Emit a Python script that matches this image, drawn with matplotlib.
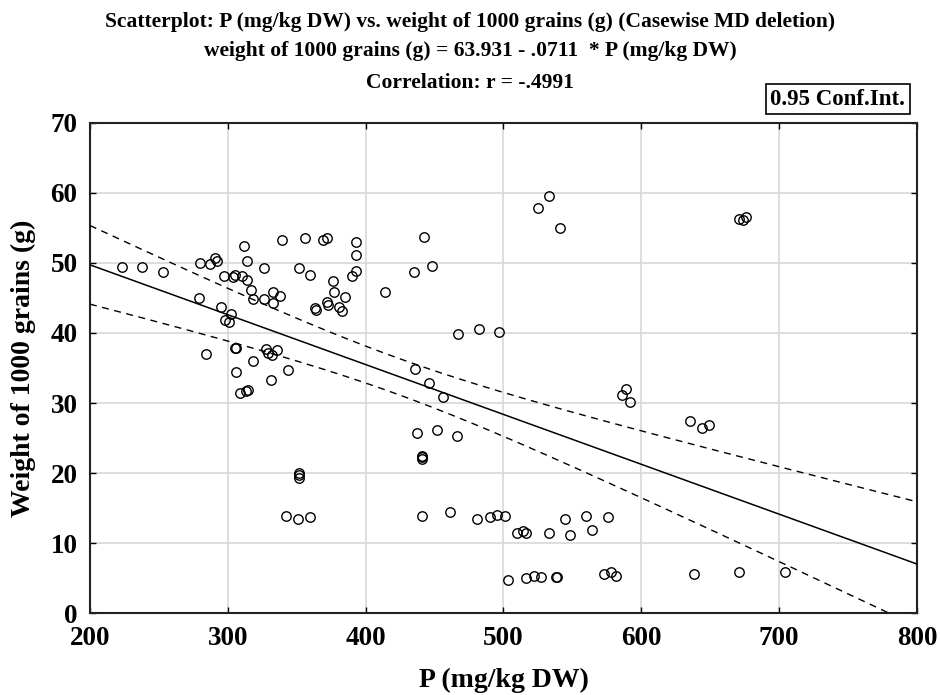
"""
Scatterplot P vs. weight of 1000 grains, with linear fit and 0.95 confidence band.
"""

import numpy as np
import matplotlib

matplotlib.use("Agg")
import matplotlib.pyplot as plt

# P (mg/kg DW)
p_values = [
    223, 238, 253, 280, 287, 291, 292, 312, 314, 326, 339, 352, 356, 360, 369, 372,
    393, 393, 393, 390, 297, 304, 305, 310, 314, 317, 318, 326, 333, 338, 333, 376,
    377, 385, 372, 373, 381, 383, 363, 364, 279, 295, 302, 298, 301, 414, 435, 442,
    448, 284, 305, 306, 318, 328, 329, 332, 336, 344, 306, 331, 309, 313, 315, 352,
    352, 352, 342, 351, 360, 436, 446, 456, 437, 452, 466, 441, 441, 441, 441, 461,
    481, 490, 495, 501, 510, 514, 516, 533, 545, 548, 560, 564, 576, 503, 516, 522,
    527, 538, 539, 573, 578, 582, 467, 482, 497, 525, 533, 541, 589, 586, 592, 635,
    644, 649, 638, 671, 674, 676, 671, 704,
]
# weight of 1000 grains (g)
weight_values = [
    49.4, 49.4, 48.7, 50.0, 49.8, 50.7, 50.2, 52.4, 50.2, 49.2, 53.3, 49.2, 53.5, 48.3, 53.3, 53.5,
    53.0, 51.1, 48.9, 48.1, 48.1, 48.0, 48.3, 48.1, 47.6, 46.1, 44.8, 44.8, 45.9, 45.3, 44.2, 47.4,
    45.9, 45.1, 44.4, 44.0, 43.7, 43.1, 43.5, 43.3, 45.0, 43.7, 42.7, 41.8, 41.6, 45.9, 48.7, 53.7,
    49.6, 37.0, 37.9, 37.8, 36.0, 37.7, 37.2, 36.8, 37.5, 34.7, 34.4, 33.3, 31.4, 31.7, 31.8, 20.1,
    19.7, 19.3, 13.9, 13.4, 13.7, 34.8, 32.9, 30.8, 25.8, 26.2, 25.3, 22.5, 22.3, 22.0, 13.9, 14.5,
    13.4, 13.7, 14.1, 13.9, 11.5, 11.7, 11.5, 11.5, 13.4, 11.2, 13.9, 11.9, 13.7, 4.8, 5.0, 5.4,
    5.2, 5.2, 5.2, 5.6, 5.9, 5.4, 39.8, 40.5, 40.1, 57.8, 59.5, 55.0, 32.0, 31.2, 30.1, 27.5,
    26.4, 26.9, 5.6, 56.3, 56.1, 56.5, 5.9, 5.9,
]

intercept = 63.931
slope = -0.0711

x_ticks = [200, 300, 400, 500, 600, 700, 800]
y_ticks = [0, 10, 20, 30, 40, 50, 60, 70]

FONT = "Liberation Serif"


def confidence_band(x, y, xs, b0, b1, t=1.98):
    """0.95 confidence band for the regression mean."""
    x = np.asarray(x, dtype=float)
    y = np.asarray(y, dtype=float)
    n = len(x)
    resid = y - (b0 + b1 * x)
    s = np.sqrt(np.sum(resid ** 2) / (n - 2))
    sxx = np.sum((x - x.mean()) ** 2)
    half = t * s * np.sqrt(1.0 / n + (xs - x.mean()) ** 2 / sxx)
    fit = b0 + b1 * xs
    return fit - half, fit + half


def main():
    plt.rcParams["font.family"] = [FONT, "DejaVu Serif"]
    plt.rcParams["font.weight"] = "bold"

    fig = plt.figure(figsize=(9.4, 6.95), dpi=100)
    ax = fig.add_axes([0.0957, 0.1173, 0.8798, 0.7064])

    xs = np.linspace(x_ticks[0], x_ticks[-1], 200)
    lo, hi = confidence_band(p_values, weight_values, xs, intercept, slope)

    ax.plot(xs, intercept + slope * xs, color="black", linewidth=1.1, zorder=3)
    ax.plot(xs, hi, color="black", linewidth=1.0, linestyle=(0, (5, 4)), zorder=3)
    ax.plot(xs, lo, color="black", linewidth=1.0, linestyle=(0, (5, 4)), zorder=3)

    ax.plot(
        p_values, weight_values, linestyle="none", marker="o", markersize=6.8,
        markerfacecolor="none", markeredgecolor="black", markeredgewidth=1.0, zorder=4,
    )

    ax.set_xlim(x_ticks[0], x_ticks[-1])
    ax.set_ylim(y_ticks[0], y_ticks[-1])
    ax.set_xticks(x_ticks)
    ax.set_yticks(y_ticks)
    ax.grid(True, color="#d8d8d8", linewidth=1.2)
    ax.set_axisbelow(True)
    ax.tick_params(direction="in", length=4, width=1, top=True, right=True,
                   labelsize=19.5, pad=9)
    for lab in ax.get_xticklabels() + ax.get_yticklabels():
        lab.set_fontweight("bold")
    for sp in ax.spines.values():
        sp.set_linewidth(1.5)
        sp.set_color("#222222")

    ax.set_xlabel("P (mg/kg DW)", fontsize=20, fontweight="bold", labelpad=12)
    ax.set_ylabel("Weight of 1000 grains (g)", fontsize=20, fontweight="bold", labelpad=10)

    fig.text(0.5, 0.968, "Scatterplot: P (mg/kg DW) vs. weight of 1000 grains (g) (Casewise MD deletion)",
             ha="center", va="center", fontsize=15.5, fontweight="bold")
    fig.text(0.5, 0.926, "weight of 1000 grains (g) = 63.931 - .0711  * P (mg/kg DW)",
             ha="center", va="center", fontsize=15.5, fontweight="bold")
    fig.text(0.5, 0.880, "Correlation: r = -.4991",
             ha="center", va="center", fontsize=15.5, fontweight="bold")
    fig.text(0.891, 0.857, "0.95 Conf.Int.", ha="center", va="center", fontsize=16.5,
             fontweight="bold",
             bbox=dict(boxstyle="square,pad=0.2", facecolor="white", edgecolor="black", linewidth=1.2))

    fig.savefig("out.png", dpi=100)
    plt.close(fig)


if __name__ == "__main__":
    main()
